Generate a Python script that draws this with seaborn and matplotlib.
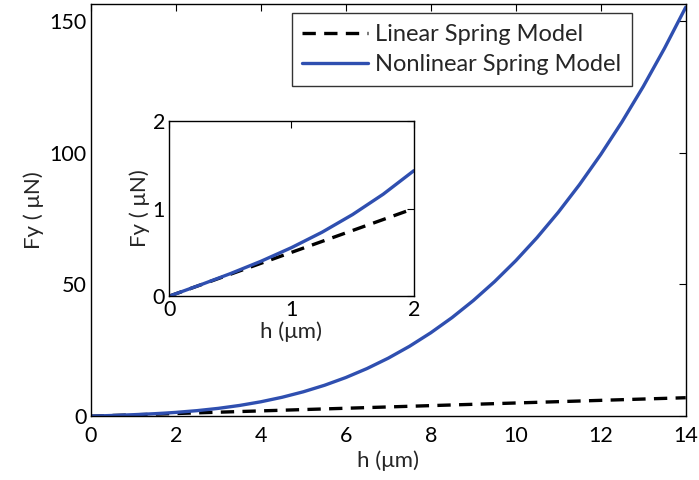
import numpy as np
import pandas as pd
import matplotlib
matplotlib.use('Agg')
import matplotlib.pyplot as plt
import seaborn as sns

# values
h = [0, 0.25, 0.5, 0.75, 1, 1.25, 1.5, 1.75, 2, 2.5, 3, 3.5, 4, 4.5, 5, 5.5, 6, 6.5,
     7, 7.5, 8, 8.5, 9, 9.5, 10, 10.5, 11, 11.5, 12, 12.5, 13, 13.5, 14]
fy_linear = [0, 0.125, 0.25, 0.375, 0.5, 0.625, 0.75, 0.875, 1.0, 1.25, 1.5, 1.75, 2.0,
             2.25, 2.5, 2.75, 3.0, 3.25, 3.5, 3.75, 4.0, 4.25, 4.5, 4.75, 5.0, 5.25,
             5.5, 5.75, 6.0, 6.25, 6.5, 6.75, 7.0]
fy_nonlinear = [0, 0.126, 0.257, 0.398, 0.554, 0.73, 0.932, 1.164, 1.432, 2.094, 2.958,
                4.065, 5.456, 7.171, 9.25, 11.73, 14.66, 18.08, 22.02, 26.53, 31.65,
                37.41, 43.87, 51.05, 59.0, 67.76, 77.37, 87.88, 99.31, 111.7, 125.1,
                139.6, 155.2]

df = pd.DataFrame({'h': h, 'Linear Spring Model': fy_linear,
                   'Nonlinear Spring Model': fy_nonlinear})
long_df = df.melt(id_vars='h', var_name='model', value_name='Fy')

sns.set_style('white')
plt.rcParams['font.family'] = ['Lato', 'DejaVu Sans']

palette = {'Linear Spring Model': 'black', 'Nonlinear Spring Model': '#2f4fb0'}
dashes = {'Linear Spring Model': (4, 2.5), 'Nonlinear Spring Model': ''}

TICK_FS = 15.5
LABEL_FS = 16


def style_axes(ax, xpad):
    for s in ax.spines.values():
        s.set_color('black')
        s.set_linewidth(1.0)
    ax.tick_params(direction='in', top=True, right=True, length=5, width=0.8,
                   labelsize=TICK_FS, pad=3, colors='black')
    ax.tick_params(axis='x', pad=xpad)


fig = plt.figure(figsize=(6.99, 4.8), dpi=100)
ax = fig.add_axes([0.130, 0.133, 0.851, 0.859])
sns.lineplot(data=long_df, x='h', y='Fy', hue='model', style='model',
             palette=palette, dashes=dashes, linewidth=2.4, ax=ax)
ax.set_xlim(0, 14)
ax.set_ylim(0, 156.5)
ax.set_xticks(range(0, 15, 2))
ax.set_yticks([0, 50, 100, 150])
ax.set_xlabel('h (\u03bcm)', fontsize=LABEL_FS, labelpad=3)
ax.set_ylabel('Fy ( \u03bcN)', fontsize=LABEL_FS, labelpad=4)
style_axes(ax, 7)
leg = ax.legend(title=None, loc='upper right', bbox_to_anchor=(0.91, 0.977),
                fontsize=17, frameon=True, fancybox=False, edgecolor='black',
                handlelength=2.8, handletextpad=0.3, borderpad=0.45,
                labelspacing=0.4, borderaxespad=0)
leg.get_frame().set_linewidth(1.0)

# inset
ins = fig.add_axes([0.242, 0.383, 0.350, 0.365])
sub = long_df[long_df['h'] <= 2]
sns.lineplot(data=sub, x='h', y='Fy', hue='model', style='model',
             palette=palette, dashes=dashes, linewidth=2.4, ax=ins, legend=False)
ins.set_xlim(0, 2)
ins.set_ylim(0, 2)
ins.set_xticks([0, 1, 2])
ins.set_yticks([0, 1, 2])
ins.set_xlabel('h (\u03bcm)', fontsize=LABEL_FS, labelpad=1)
ins.set_ylabel('Fy ( \u03bcN)', fontsize=LABEL_FS, labelpad=2)
style_axes(ins, 3)

fig.savefig('out.png', dpi=100)
